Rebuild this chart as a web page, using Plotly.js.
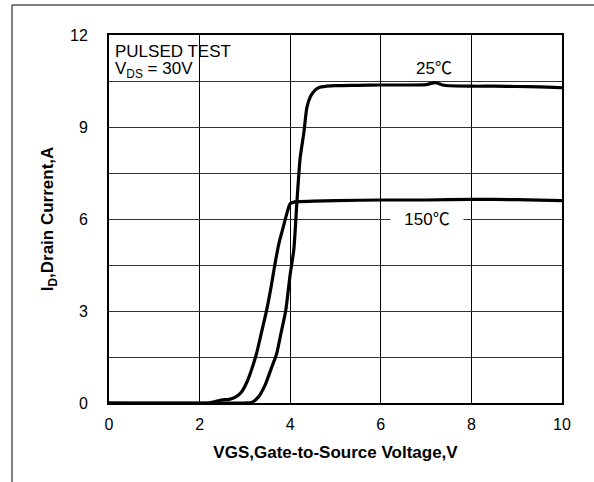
<!DOCTYPE html>
<html><head><meta charset="utf-8">
<script src="https://cdn.plot.ly/plotly-3.0.1.min.js"></script>
<style>html,body{margin:0;padding:0;background:#fff}#c{width:594px;height:482px}</style>
</head><body><div id="c"></div>
<script>
// VGS (V) and ID (A)
const vgs25 = [0, 2.0, 3.0, 3.15, 3.3, 3.45, 3.6, 3.7, 3.8, 3.9, 4.0, 4.08, 4.15, 4.22, 4.3, 4.37, 4.45, 4.55, 4.65, 4.8, 5.0, 5.5, 6.0, 6.5, 7.0, 7.2, 7.4, 8.0, 8.5, 9.0, 9.5, 10.0];
const id25  = [0, 0, 0, 0.02, 0.2, 0.6, 1.2, 1.6, 2.3, 3.0, 4.2, 5.0, 6.6, 8.0, 8.8, 9.65, 10.0, 10.2, 10.3, 10.33, 10.35, 10.36, 10.37, 10.37, 10.38, 10.45, 10.36, 10.33, 10.33, 10.32, 10.31, 10.28];
const vgs150 = [0, 2.2, 2.35, 2.5, 2.65, 2.8, 2.93, 3.05, 3.15, 3.26, 3.35, 3.48, 3.58, 3.66, 3.75, 3.84, 3.93, 4.0, 4.1, 4.5, 5.0, 6.0, 7.0, 8.0, 9.0, 10.0];
const id150  = [0, 0, 0.05, 0.1, 0.12, 0.2, 0.37, 0.7, 1.1, 1.63, 2.2, 3.03, 3.8, 4.5, 5.2, 5.7, 6.2, 6.5, 6.56, 6.58, 6.6, 6.62, 6.62, 6.64, 6.63, 6.6];
const curveTemps = ["25", "150"];
const xTicks = [0, 2, 4, 6, 8, 10];
const yTicks = [0, 3, 6, 9, 12];

const F = "Liberation Sans, Arial, sans-serif";
const DEG = '<span style="font-family:\'Noto Sans CJK SC\'">\u2103</span>';
const traces = [
  {x: vgs25, y: id25, mode: "lines", line: {color: "#000", width: 3.2, shape: "spline", smoothing: 0.6}, hoverinfo: "skip"},
  {x: vgs150, y: id150, mode: "lines", line: {color: "#000", width: 3.2, shape: "spline", smoothing: 0.6}, hoverinfo: "skip"}
];
const layout = {
  width: 594, height: 482,
  margin: {l: 109, r: 32, t: 35, b: 79},
  paper_bgcolor: "#fff", plot_bgcolor: "#fff",
  showlegend: false,
  font: {family: F, size: 16, color: "#000"},
  xaxis: {
    range: [0, 10], tickvals: xTicks, ticktext: xTicks.map(String),
    showgrid: true, gridcolor: "#000", gridwidth: 1,
    showline: true, linecolor: "#000", linewidth: 2, mirror: true,
    ticks: "", ticklabelstandoff: 6, zeroline: false,
    tickfont: {family: F, size: 16, color: "#000"},
    title: {text: "<b>VGS,Gate-to-Source Voltage,V</b>", font: {family: F, size: 17, color: "#000"}, standoff: 14}
  },
  yaxis: {
    range: [0, 12], tickvals: yTicks, ticktext: yTicks.map(String),
    showgrid: true, gridcolor: "#333", gridwidth: 1,
    minor: {dtick: 1.5, showgrid: true, gridcolor: "#333", gridwidth: 1, ticks: ""},
    showline: true, linecolor: "#000", linewidth: 2, mirror: true,
    ticks: "", ticklabelstandoff: 16, zeroline: false,
    tickfont: {family: F, size: 16, color: "#000"},
    title: {text: "<b>I<sub>D</sub>,Drain Current,A</b>", font: {family: F, size: 17, color: "#000"}, standoff: 12}
  },
  shapes: [
    {type: "rect", xref: "paper", yref: "paper", x0: 0, x1: 0.2936, y0: 0.88, y1: 1, fillcolor: "#fff", line: {width: 0}, layer: "between"},
    {type: "path", xref: "paper", yref: "paper", path: "M -0.2141 -0.3 L -0.2141 1.0815 L 1.2 1.0815", line: {color: "#000", width: 1}}
  ],
  annotations: [
    {xref: "paper", yref: "paper", x: 0.010, y: 0.985, xanchor: "left", yanchor: "top", align: "left", showarrow: false,
     text: "PULSED TEST", font: {family: F, size: 17, color: "#000"}, borderpad: 0},
    {xref: "paper", yref: "paper", x: 0.010, y: 0.937, xanchor: "left", yanchor: "top", align: "left", showarrow: false,
     text: "V<sub>DS</sub> = 30V", font: {family: F, size: 17, color: "#000"}, borderpad: 0},
    {x: 7.17, y: 10.96, text: curveTemps[0] + DEG, showarrow: false, font: {family: F, size: 17, color: "#000"}},
    {x: 7.02, y: 6.0, yshift: 2, text: curveTemps[1] + DEG, showarrow: false, bgcolor: "#fff", width: 70, font: {family: F, size: 17, color: "#000"}}
  ]
};
Plotly.newPlot("c", traces, layout, {staticPlot: true});
</script></body></html>
